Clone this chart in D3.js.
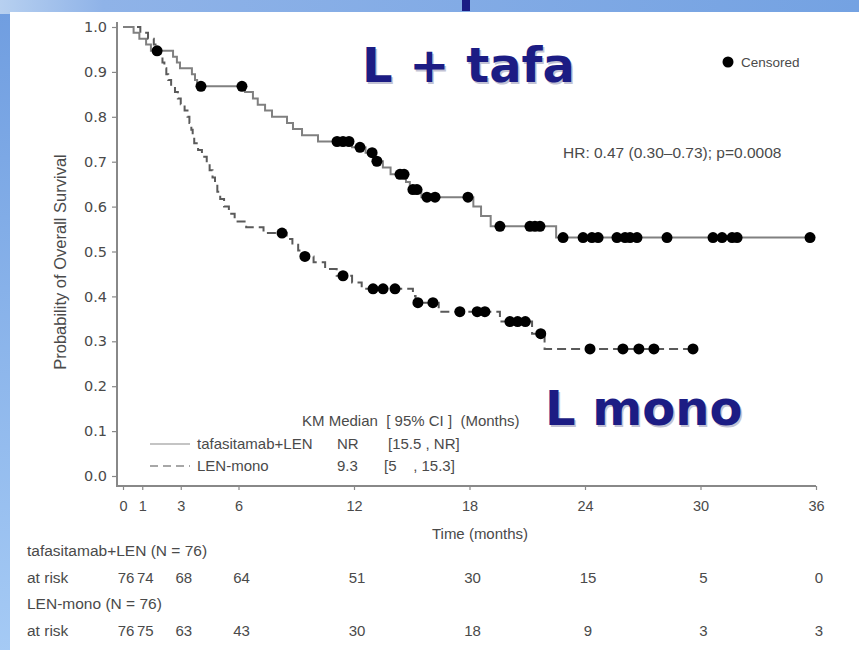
<!DOCTYPE html>
<html>
<head>
<meta charset="utf-8">
<script src="https://cdn.jsdelivr.net/npm/d3@7"></script>
<style>
  body { margin: 0; background: #fff; }
  svg { display: block; }
</style>
</head>
<body>
<svg id="chart" width="859" height="650"></svg>
<script>
// ---- data ----
const monthTicks = [0, 1, 3, 6, 12, 18, 24, 30, 36];
const survTicks = [0, 0.1, 0.2, 0.3, 0.4, 0.5, 0.6, 0.7, 0.8, 0.9, 1.0];

// Kaplan-Meier steps: [month, survival after the event]
const tafaEvents = [
  [0.55, 0.987], [0.85, 0.974], [1.2, 0.961], [1.45, 0.947],
  [2.6, 0.934], [2.8, 0.921], [2.96, 0.908], [3.58, 0.895], [3.74, 0.882], [3.85, 0.868],
  [6.34, 0.855], [6.75, 0.841], [7.0, 0.827], [7.38, 0.814], [7.74, 0.800],
  [8.52, 0.786], [8.83, 0.773], [9.3, 0.759], [10.13, 0.745],
  [11.9, 0.732], [12.6, 0.720], [13.05, 0.701], [13.5, 0.687], [13.9, 0.672],
  [14.7, 0.655], [14.9, 0.638], [15.5, 0.621],
  [18.2, 0.600], [18.6, 0.579], [19.1, 0.556], [22.5, 0.531]
];
const tafaCensored = [1.77, 4.05, 6.18, 11.12, 11.43, 11.74, 12.31, 12.94, 13.19,
  14.39, 14.6, 15.06, 15.27, 15.79, 16.21, 17.92, 19.58, 21.14, 21.4, 21.66,
  22.86, 23.9, 24.36, 24.68, 25.66, 26.08, 26.34, 26.7, 28.26, 30.65, 31.12, 31.64, 31.9, 35.69];
const tafaEnd = 35.69;

const lenEvents = [
  [0.9, 0.987], [1.3, 0.974], [1.6, 0.961], [1.8, 0.947],
  [1.95, 0.934], [2.05, 0.921], [2.15, 0.908], [2.25, 0.895], [2.35, 0.882], [2.5, 0.868],
  [2.7, 0.855], [2.85, 0.841], [3.0, 0.828], [3.2, 0.814], [3.35, 0.800], [3.45, 0.786],
  [3.55, 0.771], [3.62, 0.756], [3.7, 0.741], [3.9, 0.726], [4.1, 0.711], [4.35, 0.696],
  [4.5, 0.681], [4.65, 0.665], [4.78, 0.649], [4.9, 0.633], [5.05, 0.617], [5.25, 0.600],
  [5.5, 0.584], [5.8, 0.567], [6.4, 0.554], [7.3, 0.541],
  [8.5, 0.528], [8.8, 0.515], [9.1, 0.502], [9.35, 0.489],
  [9.9, 0.476], [10.5, 0.461], [11.1, 0.446], [11.9, 0.431], [12.4, 0.417],
  [15.06, 0.401], [15.2, 0.386], [16.4, 0.366], [19.58, 0.344], [21.25, 0.317], [21.9, 0.283]
];
const lenCensored = [8.26, 9.45, 11.43, 12.99, 13.51, 14.13, 15.32, 16.1, 17.5, 18.4, 18.8,
  20.1, 20.5, 20.9, 21.7, 24.26, 25.97, 26.8, 27.58, 29.61];
const lenEnd = 29.61;

const riskTafa = [76, 74, 68, 64, 51, 30, 15, 5, 0];
const riskLen = [76, 75, 63, 43, 30, 18, 9, 3, 3];

const groupNames = ["tafasitamab+LEN", "LEN-mono"];
const kmMedian = ["NR", "9.3"];
const kmCI = ["[15.5 , NR]", "[5    , 15.3]"];

// ---- drawing ----
const svg = d3.select("#chart");
const defs = svg.append("defs");

const bgGrad = defs.append("linearGradient").attr("id", "bg")
  .attr("x1", 0).attr("y1", 0).attr("x2", 0.15).attr("y2", 1);
bgGrad.append("stop").attr("offset", "0%").attr("stop-color", "#6f9de0");
bgGrad.append("stop").attr("offset", "100%").attr("stop-color", "#a6cbf5");

const topGrad = defs.append("linearGradient").attr("id", "topband")
  .attr("x1", 0).attr("y1", 0).attr("x2", 1).attr("y2", 0);
topGrad.append("stop").attr("offset", "0%").attr("stop-color", "#b7d0f0");
topGrad.append("stop").attr("offset", "12%").attr("stop-color", "#8fb3e8");
topGrad.append("stop").attr("offset", "100%").attr("stop-color", "#74a2e2");

svg.append("rect").attr("width", 859).attr("height", 650).attr("fill", "url(#bg)");
svg.append("rect").attr("width", 859).attr("height", 14).attr("fill", "url(#topband)");

const navy = "#1c1c84";
// descender stroke of the slide heading above the panel
svg.append("rect").attr("x", 462).attr("y", 0).attr("width", 8).attr("height", 11).attr("fill", navy);

// white content panel
svg.append("rect").attr("x", 10).attr("y", 12).attr("width", 849).attr("height", 638).attr("fill", "#fff");

const x = d3.scaleLinear().domain([0, 36]).range([123, 816]);
const y = d3.scaleLinear().domain([0, 1]).range([476, 27]);

const textFont = "Liberation Sans, Arial, sans-serif";
const grey = "#4a4a4a";

// y axis
const yAxis = svg.append("g").attr("transform", "translate(117,0)")
  .call(d3.axisLeft(y).tickValues(survTicks).tickFormat(d3.format(".1f")).tickSize(5).tickPadding(5));
yAxis.select(".domain").remove();
yAxis.selectAll("line").attr("stroke", "#888").attr("stroke-width", 1.2);
yAxis.selectAll("text").attr("font-family", "DejaVu Sans, sans-serif").attr("font-size", 14.5).attr("fill", grey);
svg.append("line").attr("x1", 117).attr("x2", 117).attr("y1", 22).attr("y2", 487)
  .attr("stroke", "#888").attr("stroke-width", 2);

// x axis
const xAxis = svg.append("g").attr("transform", "translate(0,486)")
  .call(d3.axisBottom(x).tickValues(monthTicks).tickSize(4).tickPadding(11));
xAxis.select(".domain").remove();
xAxis.selectAll("line").attr("stroke", "#888").attr("stroke-width", 1.2);
xAxis.selectAll("text").attr("font-family", textFont).attr("font-size", 14.5).attr("fill", grey);
svg.append("line").attr("x1", 116).attr("x2", 816).attr("y1", 486).attr("y2", 486)
  .attr("stroke", "#888").attr("stroke-width", 2.2);

// axis titles
svg.append("text").attr("transform", "translate(66,262) rotate(-90)")
  .attr("text-anchor", "middle").attr("font-family", textFont).attr("font-size", 16.5)
  .attr("fill", grey).text("Probability of Overall Survival");
svg.append("text").attr("x", 480).attr("y", 539).attr("text-anchor", "middle")
  .attr("font-family", textFont).attr("font-size", 15).attr("fill", grey).text("Time (months)");

// survival curves
function stepPoints(events, end) {
  const pts = [[0, 1]].concat(events);
  pts.push([end, events[events.length - 1][1]]);
  return pts;
}
function survivalAt(events, t) {
  let s = 1;
  for (const [et, es] of events) { if (et <= t) s = es; }
  return s;
}
const line = d3.line().x(d => x(d[0])).y(d => y(d[1])).curve(d3.curveStepAfter);

svg.append("path").datum(stepPoints(lenEvents, lenEnd)).attr("d", line)
  .attr("fill", "none").attr("stroke", "#5a5a5a").attr("stroke-width", 2)
  .attr("stroke-dasharray", "9,5");
svg.append("path").datum(stepPoints(tafaEvents, tafaEnd)).attr("d", line)
  .attr("fill", "none").attr("stroke", "#808080").attr("stroke-width", 2);

function drawCensored(times, events) {
  svg.append("g").selectAll("circle").data(times).join("circle")
    .attr("cx", d => x(d)).attr("cy", d => y(survivalAt(events, d)))
    .attr("r", 5.5).attr("fill", "#000");
}
drawCensored(tafaCensored, tafaEvents);
drawCensored(lenCensored, lenEvents);

// censored legend
svg.append("circle").attr("cx", 728).attr("cy", 62).attr("r", 5.5).attr("fill", "#000");
svg.append("text").attr("x", 741).attr("y", 67).attr("font-family", textFont)
  .attr("font-size", 13.5).attr("fill", grey).text("Censored");

// hazard ratio
svg.append("text").attr("x", 563).attr("y", 158).attr("font-family", textFont)
  .attr("font-size", 15.5).attr("fill", grey).text("HR: 0.47 (0.30–0.73); p=0.0008");

// KM median block
svg.append("text").attr("x", 302).attr("y", 426).attr("font-family", textFont)
  .attr("font-size", 15).attr("fill", grey).attr("xml:space", "preserve")
  .text("KM Median  [ 95% CI ]  (Months)");
const rowsY = [449, 471];
rowsY.forEach((ry, i) => {
  svg.append("line").attr("x1", 150).attr("x2", 190).attr("y1", ry - 5).attr("y2", ry - 5)
    .attr("stroke", i === 0 ? "#b0b0b0" : "#8a8a8a").attr("stroke-width", 1.5)
    .attr("stroke-dasharray", i === 0 ? null : "8,5");
  svg.append("text").attr("x", 197).attr("y", ry).attr("font-family", textFont)
    .attr("font-size", 15).attr("fill", grey).text(groupNames[i]);
  svg.append("text").attr("x", 337).attr("y", ry).attr("font-family", textFont)
    .attr("font-size", 15).attr("fill", grey).text(kmMedian[i]);
  svg.append("text").attr("x", i === 0 ? 388 : 384).attr("y", ry).attr("font-family", textFont)
    .attr("font-size", 15).attr("fill", grey).attr("xml:space", "preserve").text(kmCI[i]);
});

// number at risk table
const tableRows = [
  { label: "tafasitamab+LEN (N = 76)", y: 556 },
  { label: "at risk", y: 583, values: riskTafa },
  { label: "LEN-mono (N = 76)", y: 609 },
  { label: "at risk", y: 636, values: riskLen }
];
tableRows.forEach(r => {
  svg.append("text").attr("x", 27).attr("y", r.y).attr("font-family", textFont)
    .attr("font-size", 15.5).attr("fill", grey).text(r.label);
  if (r.values) {
    svg.append("g").selectAll("text").data(r.values).join("text")
      .attr("x", (d, i) => x(monthTicks[i]) + 3).attr("y", r.y).attr("text-anchor", "middle")
      .attr("font-family", textFont).attr("font-size", 15).attr("fill", grey).text(d => d);
  }
});

// arm annotations
[["L + tafa", 362, 82], ["L mono", 545, 425]].forEach(([t, tx, ty]) => {
  svg.append("text").attr("x", tx + 1.5).attr("y", ty + 1.5)
    .attr("font-family", "DejaVu Sans, sans-serif").attr("font-weight", "bold")
    .attr("font-size", 48).attr("fill", "#9a9ab8").attr("opacity", 0.6).text(t);
  svg.append("text").attr("x", tx).attr("y", ty)
    .attr("font-family", "DejaVu Sans, sans-serif").attr("font-weight", "bold")
    .attr("font-size", 48).attr("fill", navy).text(t);
});
</script>
</body>
</html>
